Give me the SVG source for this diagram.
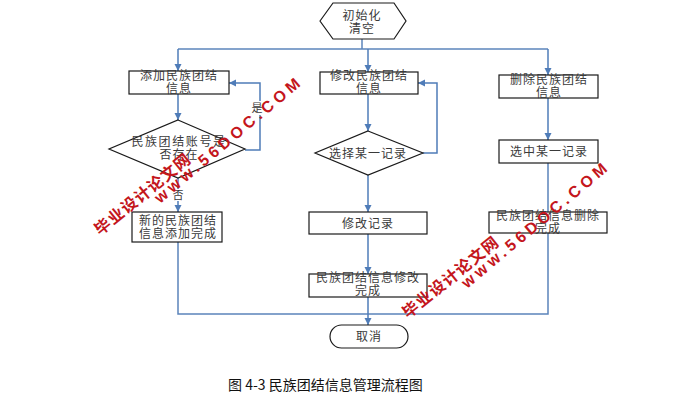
<svg xmlns="http://www.w3.org/2000/svg" width="700" height="408" viewBox="0 0 700 408">
<defs>
<marker id="arr" markerWidth="8" markerHeight="8" refX="7" refY="4" orient="auto" markerUnits="userSpaceOnUse">
<path d="M0,0.5 L7,4 L0,7.5 Z" fill="#4f7cb8"/>
</marker>
<style>
.box{fill:#fff;stroke:#1a1a1a;stroke-width:1.2}
.t{font-family:"Noto Sans CJK SC","Noto Sans",sans-serif;font-size:12px;fill:#3a3a3a;text-anchor:middle;letter-spacing:1px}
.c{fill:none;stroke:#5b84bb;stroke-width:1.5}
.a{fill:none;stroke:#4f7cb8;stroke-width:1.5;marker-end:url(#arr)}
.lbl{font-family:"Noto Sans CJK SC",sans-serif;font-size:11px;fill:#3a3a3a;text-anchor:middle}
.wm1{font-family:"Noto Sans CJK SC",sans-serif;font-size:16px;font-weight:bold;fill:#c4161c;letter-spacing:1px}
.wm2{font-family:"Liberation Sans",Arial,sans-serif;font-size:16px;font-weight:bold;fill:#c4161c;letter-spacing:4px}
.cap{font-family:"Noto Sans CJK SC",sans-serif;font-size:14px;fill:#111}
</style>
</defs>
<rect width="700" height="408" fill="#fff"/>

<g id="connectors">
<path class="c" d="M362,39 V49"/>
<path class="c" d="M178,49 H548"/>
<path class="a" d="M178,49 V71"/>
<path class="a" d="M368,49 V72"/>
<path class="a" d="M548,49 V75"/>
<path class="a" d="M178,94 V120"/>
<path class="a" d="M245,150 H260 V83 H229"/>
<path class="a" d="M178,178 V212"/>
<path class="a" d="M368,94 V131"/>
<path class="a" d="M423,153 H437 V83 H418"/>
<path class="a" d="M368,175 V212"/>
<path class="a" d="M368,234 V274"/>
<path class="a" d="M548,98 V140"/>
<path class="c" d="M548,163 V314 H178 V242"/>
<path class="a" d="M368,297 V325"/>
<rect x="251" y="101" width="13" height="14" fill="#fff"/>
<text class="lbl" x="257" y="112">是</text>
<rect x="172" y="189" width="13" height="12" fill="#fff"/>
<text class="lbl" x="178" y="199">否</text>
</g>

<g id="start">
<polygon class="box" points="320,21 333,3 394,3 406,21 394,39 333,39"/>
<text class="t" x="362" y="19.5">初始化<tspan x="362" dy="13.5">清空</tspan></text>
</g>

<g id="add">
<rect class="box" x="129" y="71" width="100" height="23"/>
<text class="t" x="179" y="80">添加民族团结<tspan x="179" dy="12.5">信息</tspan></text>
</g>

<g id="check">
<polygon class="box" points="178,120 245,149 178,178 109,149"/>
<text class="t" x="179" y="146"><tspan style="letter-spacing:1.6px">民族团结账号是</tspan><tspan x="179" dy="13">否存在</tspan></text>
</g>

<g id="addDone">
<rect class="box" x="132" y="212" width="90" height="30"/>
<text class="t" x="178" y="224.5">新的民族团结<tspan x="178" dy="13">信息添加完成</tspan></text>
</g>

<g id="modify">
<rect class="box" x="320" y="72" width="98" height="22"/>
<text class="t" x="369" y="80">修改民族团结<tspan x="369" dy="12.5">信息</tspan></text>
</g>

<g id="select">
<polygon class="box" points="368,131 423,153 368,175 315,153"/>
<text class="t" x="368" y="158">选择某一记录</text>
</g>

<g id="modRecord">
<rect class="box" x="309" y="212" width="118" height="22"/>
<text class="t" x="368" y="227.5">修改记录</text>
</g>

<g id="modDone">
<rect class="box" x="309" y="274" width="118" height="23"/>
<text class="t" x="368" y="281.5">民族团结信息修改<tspan x="368" dy="13">完成</tspan></text>
</g>

<g id="delete">
<rect class="box" x="499" y="75" width="99" height="23"/>
<text class="t" x="549" y="84">删除民族团结<tspan x="549" dy="13">信息</tspan></text>
</g>

<g id="pick">
<rect class="box" x="499" y="140" width="99" height="23"/>
<text class="t" x="549" y="156">选中某一记录</text>
</g>

<g id="delDone">
<rect class="box" x="489" y="212" width="118" height="21"/>
<text class="t" x="548" y="219.5">民族团结信息删除<tspan x="548" dy="13">完成</tspan></text>
</g>

<g id="cancel">
<rect class="box" x="330" y="325" width="78" height="23" rx="11.5" ry="11.5"/>
<text class="t" x="369" y="341">取消</text>
</g>

<text class="cap" x="228" y="390">图 4-3 民族团结信息管理流程图</text>

<g id="watermark1">
<text class="wm1" transform="translate(100,236) rotate(-39)">毕业设计论文网</text>
<text class="wm2" transform="translate(160,204) rotate(-40)">www.56DOC.COM</text>
</g>
<g id="watermark2">
<text class="wm1" transform="translate(408,319) rotate(-39)">毕业设计论文网</text>
<text class="wm2" transform="translate(467,289) rotate(-40)">www.56DOC.COM</text>
</g>
</svg>
